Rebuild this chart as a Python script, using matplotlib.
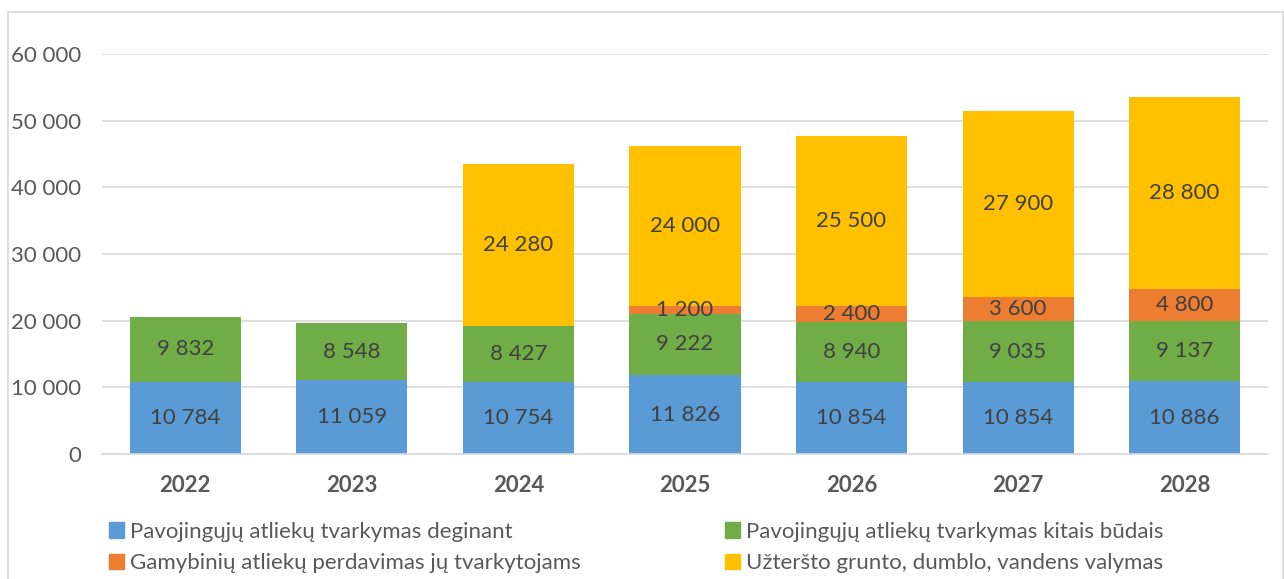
import numpy as np
import matplotlib.pyplot as plt
from matplotlib.patches import Rectangle, Patch

plt.rcParams['font.family'] = ['Lato', 'DejaVu Sans']

# duomenys / data
years = ['2022', '2023', '2024', '2025', '2026', '2027', '2028']
deginant = [10784, 11059, 10754, 11826, 10854, 10854, 10886]
kitais = [9832, 8548, 8427, 9222, 8940, 9035, 9137]
perdavimas = [0, 0, 0, 1200, 2400, 3600, 4800]
valymas = [0, 0, 24280, 24000, 25500, 27900, 28800]

series = [
    ('Pavojingųjų atliekų tvarkymas deginant', deginant, '#5B9BD5'),
    ('Pavojingųjų atliekų tvarkymas kitais būdais', kitais, '#70AD47'),
    ('Gamybinių atliekų perdavimas jų tvarkytojams', perdavimas, '#ED7D31'),
    ('Užteršto grunto, dumblo, vandens valymas', valymas, '#FFC000'),
]

def fmt(v):
    return f'{int(v):,}'.replace(',', ' ')

fig = plt.figure(figsize=(12.84, 5.79), dpi=100)
ax = fig.add_axes([0.0794, 0.2159, 0.9081, 0.6908])

x = np.arange(len(years))
bottom = np.zeros(len(years))
for name, vals, col in series:
    vals = np.array(vals, dtype=float)
    ax.bar(x, vals, 0.667, bottom=bottom, color=col, zorder=2)
    for xi, b, v in zip(x, bottom, vals):
        if v > 0:
            ax.text(xi, b + v / 2, fmt(v), ha='center', va='center',
                    fontsize=16, color='#404040', zorder=3)
    bottom += vals

ax.set_xlim(-0.5, len(years) - 0.5)
ax.set_ylim(0, 60000)
ax.set_yticks(range(0, 60001, 10000))
ax.set_yticklabels([fmt(v) for v in range(0, 60001, 10000)])
ax.set_xticks(x)
ax.set_xticklabels(years, fontweight='bold')
ax.tick_params(axis='y', length=0, labelsize=16, labelcolor='#595959', pad=15)
ax.tick_params(axis='x', length=0, labelsize=16, labelcolor='#595959', pad=15)
ax.grid(axis='y', color='#D9D9D9', linewidth=1.2, zorder=0)
for s in ['top', 'right', 'left']:
    ax.spines[s].set_visible(False)
ax.spines['bottom'].set_color('#D9D9D9')
ax.spines['bottom'].set_linewidth(1.2)

# legenda eilutemis: matplotlib pildo stulpeliais
order = [0, 2, 1, 3]
handles = [Patch(color=series[i][2], label=series[i][0]) for i in order]
fig.legend(handles=handles, ncol=2, loc='upper left', bbox_to_anchor=(0.069, 0.133),
           frameon=False, fontsize=16, labelcolor='#595959', handlelength=0.7,
           handleheight=0.7, handletextpad=0.25, columnspacing=6.5, labelspacing=0.5)

fig.patches.append(Rectangle((0.006, -0.01), 0.993, 0.99, transform=fig.transFigure,
                             fill=False, edgecolor='#D9D9D9', linewidth=1.2))

fig.savefig('out.png', dpi=100)
